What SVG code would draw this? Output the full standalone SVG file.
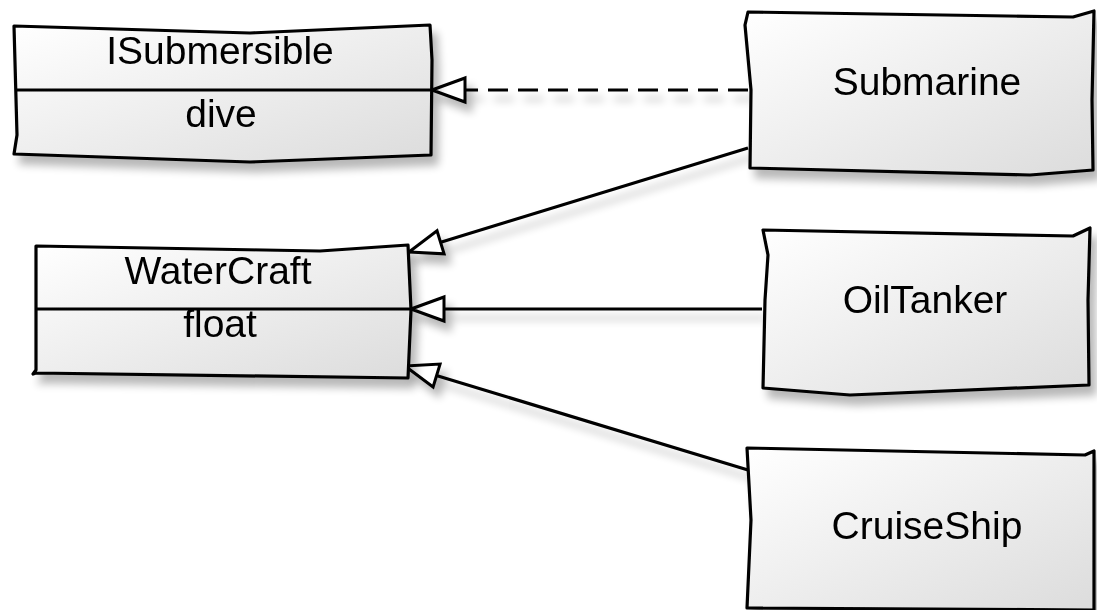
<svg xmlns="http://www.w3.org/2000/svg" width="1097" height="610" viewBox="0 0 1097 610">
  <defs>
    <linearGradient id="boxFill" x1="0" y1="0" x2="1" y2="1">
      <stop offset="0" stop-color="#ffffff"/>
      <stop offset="1" stop-color="#dcdcdc"/>
    </linearGradient>
    <filter id="shadow" x="-10%" y="-10%" width="130%" height="140%">
      <feGaussianBlur in="SourceAlpha" stdDeviation="4"/>
      <feOffset dx="6" dy="9" result="b"/>
      <feComponentTransfer><feFuncA type="linear" slope="0.28"/></feComponentTransfer>
      <feMerge><feMergeNode/><feMergeNode in="SourceGraphic"/></feMerge>
    </filter>
    <marker id="hollow" viewBox="-36 -15 40 30" refX="0" refY="0" markerWidth="40" markerHeight="30" markerUnits="userSpaceOnUse" orient="auto">
      <path d="M0,0 L-33,-12 L-33,12 Z" fill="#fff" stroke="#000" stroke-width="3" stroke-linejoin="miter"/>
    </marker>
  </defs>
  <style>
    .box { fill: url(#boxFill); stroke: #000; stroke-width: 3.2; stroke-linejoin: round; }
    .sep { fill: none; stroke: #000; stroke-width: 3.2; }
    .edge { fill: none; stroke: #000; stroke-width: 3.2; marker-end: url(#hollow); }
    .dash { stroke-dasharray: 20 10; }
    text { font-family: "Liberation Sans", Arial, sans-serif; font-size: 39px; fill: #000; text-anchor: middle; }
  </style>

  <rect width="1097" height="610" fill="#fff"/>

  <!-- connectors -->
  <g id="connectors" filter="url(#shadow)">
    <path class="edge dash" d="M748,90 L432,90"/>
    <path class="edge" d="M748,148 L409,252"/>
    <path class="edge" d="M762,309 L411,309"/>
    <path class="edge" d="M748,470 L405,366"/>
  </g>

  <!-- interface ISubmersible -->
  <g id="ISubmersible" filter="url(#shadow)">
    <path class="box" d="M14,26 L250,33 L430,25 L432,60 L431,155 L250,162 L14,154 L17,135 Z"/>
    <path class="sep" d="M15,90 L432,90"/>
    <text x="220" y="64">ISubmersible</text>
    <text x="221" y="127">dive</text>
  </g>

  <!-- class WaterCraft -->
  <g id="WaterCraft" filter="url(#shadow)">
    <path class="box" d="M36,246 L320,251 L408,245 L411,310 L408,378 L36,373 L33,374 L36,370 Z"/>
    <path class="sep" d="M37,309 L411,309"/>
    <text x="218" y="284">WaterCraft</text>
    <text x="220" y="337">float</text>
  </g>

  <!-- class Submarine -->
  <g id="Submarine" filter="url(#shadow)">
    <path class="box" d="M748,12 L1073,17 L1094,11 L1092,100 L1093,170 L1030,175 L750,168 L751,90 L745,25 Z"/>
    <text x="927" y="95">Submarine</text>
  </g>

  <!-- class OilTanker -->
  <g id="OilTanker" filter="url(#shadow)">
    <path class="box" d="M763,230 L1073,236 L1090,228 L1088,300 L1089,385 L850,395 L763,388 L765,300 L768,255 Z"/>
    <text x="925" y="313">OilTanker</text>
  </g>

  <!-- class CruiseShip -->
  <g id="CruiseShip" filter="url(#shadow)">
    <path class="box" d="M747,448 L1085,455 L1094,451 L1094,610 L747,608 L751,520 Z"/>
    <text x="927" y="539">CruiseShip</text>
  </g>
</svg>
